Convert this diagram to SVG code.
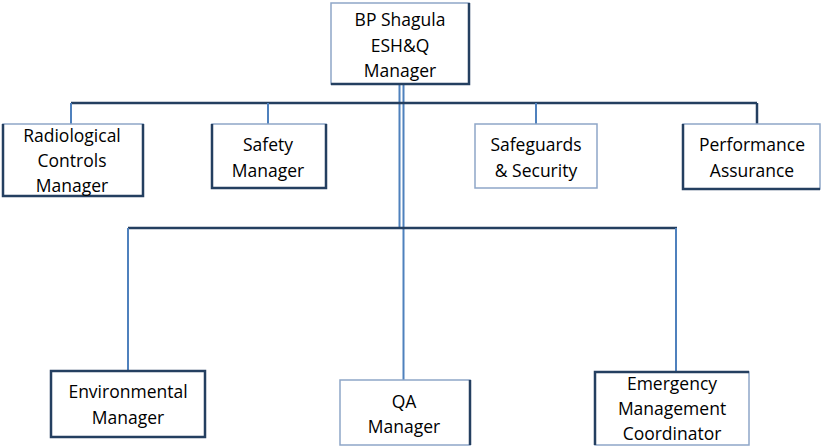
<svg xmlns="http://www.w3.org/2000/svg" width="821" height="448" viewBox="0 0 821 448">
<style>
.box{fill:#fff;stroke:#8EA6C8;stroke-width:1.5}
.sh{fill:none;stroke:#243F60;stroke-width:2.5}
.lbl{font-family:"Open Sans","Liberation Sans",sans-serif;font-size:17.5px;fill:#000;text-anchor:middle}
.hl{fill:none;stroke:#243F60;stroke-width:2.5}
.vl{fill:none;stroke:#4F81BD;stroke-width:2}
</style>
<g id="connectors">
<path class="vl" d="M399.5 84V229M403.5 84V380"/>
<path class="hl" d="M71 103H757"/>
<path class="vl" d="M71 103V124M268 103V124M536 103V124"/>
<path class="hl" d="M757 103V124"/>
<path class="hl" d="M128 228H677"/>
<path class="vl" d="M128 228V371M676 228V371"/>
</g>
<g id="n0"><rect class="box" x="331" y="3" width="138" height="81"/><path class="sh" d="M469 3V84H331"/>
<text class="lbl" x="400" y="26">BP Shagula</text><text class="lbl" x="400" y="52">ESH&amp;Q</text><text class="lbl" x="400" y="77">Manager</text></g>
<g id="n1"><rect class="box" x="3" y="124" width="140" height="72"/><path class="sh" d="M3 124V196H143V124"/>
<text class="lbl" x="72" y="142">Radiological</text><text class="lbl" x="72" y="167">Controls</text><text class="lbl" x="72" y="192">Manager</text></g>
<g id="n2"><rect class="box" x="212" y="124" width="114" height="64"/><path class="sh" d="M212 124V188H326V124"/>
<text class="lbl" x="268" y="151">Safety</text><text class="lbl" x="268" y="177">Manager</text></g>
<g id="n3"><rect class="box" x="475" y="124" width="122" height="64"/>
<text class="lbl" x="536" y="151">Safeguards</text><text class="lbl" x="536" y="177">&amp; Security</text></g>
<g id="n4"><rect class="box" x="683" y="124" width="137" height="65"/><path class="sh" d="M683 124V189H820"/>
<text class="lbl" x="752" y="151">Performance</text><text class="lbl" x="752" y="177">Assurance</text></g>
<g id="n5"><rect class="box" x="51" y="371" width="154" height="66"/><path class="sh" d="M51 371H205V437H51Z"/>
<text class="lbl" x="128" y="398">Environmental</text><text class="lbl" x="128" y="424">Manager</text></g>
<g id="n6"><rect class="box" x="340" y="380" width="130" height="65"/><path class="sh" d="M470 380V445"/>
<text class="lbl" x="404" y="408">QA</text><text class="lbl" x="404" y="433">Manager</text></g>
<g id="n7"><rect class="box" x="595" y="372" width="154" height="73"/><path class="sh" d="M749 372H595V445"/>
<text class="lbl" x="672" y="390">Emergency</text><text class="lbl" x="672" y="415">Management</text><text class="lbl" x="672" y="440">Coordinator</text></g>
</svg>
